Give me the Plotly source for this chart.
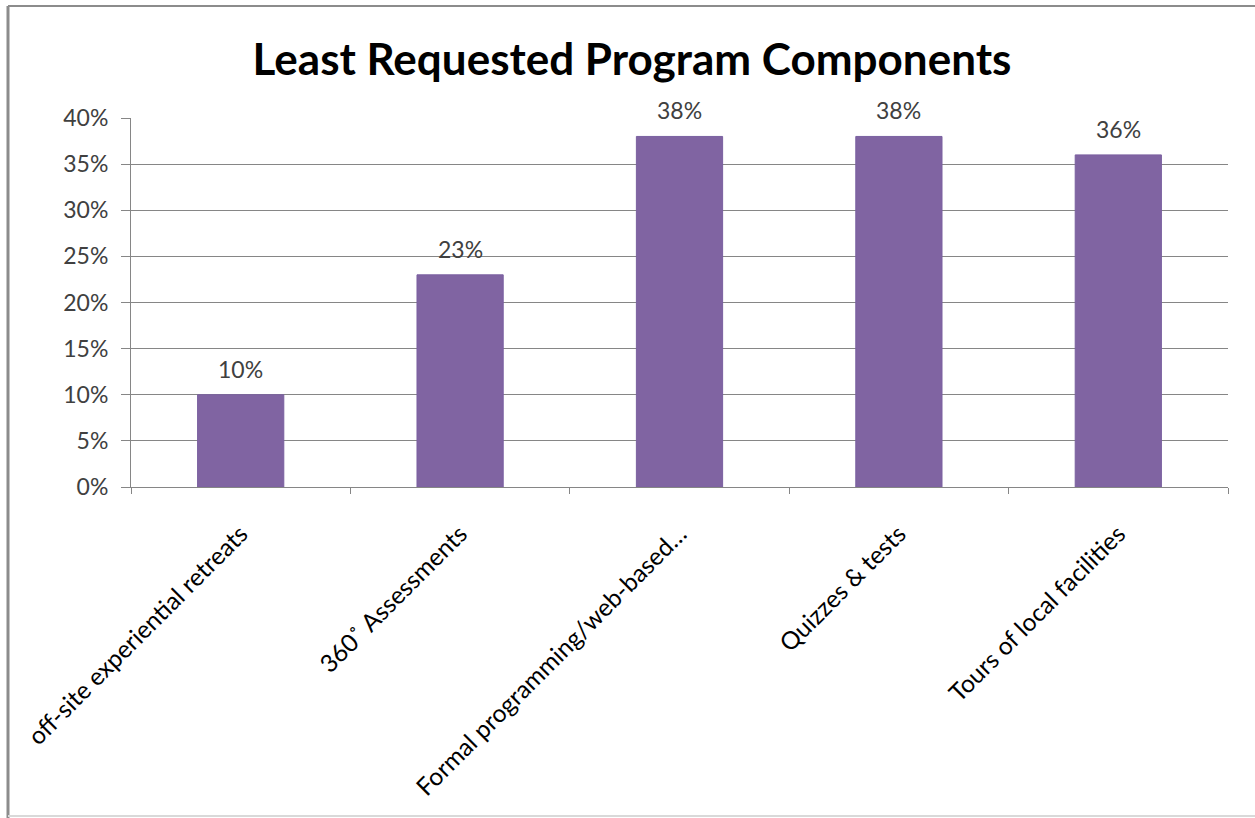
import plotly.graph_objects as go

categories = ["off-site experiential retreats", "360˚ Assessments",
              "Formal programming/web-based…", "Quizzes & tests",
              "Tours of local facilities"]
values = [10, 23, 38, 38, 36]
labels = ["10%", "23%", "38%", "38%", "36%"]

W, H = 1255, 818
L, R, T, B = 131, 1228, 118, 487
pw, ph = R - L, B - T

def px(x):
    return (x - L) / pw

def py(y):
    return (B - y) / ph

font = "Lato, 'Open Sans', sans-serif"
fig = go.Figure(go.Bar(
    x=categories, y=values,
    marker=dict(color="#8064A2", line=dict(color="#7A60A0", width=1)),
    width=0.393,
))

for c, v, t in zip(categories, values, labels):
    fig.add_annotation(x=c, y=v, text=t, showarrow=False, yanchor="bottom",
                       yshift=10, font=dict(size=23, color="#404040", family=font))

border = "#8C8C8C"
fig.update_layout(
    width=W, height=H,
    margin=dict(l=L, r=W - R, t=T, b=H - B, autoexpand=False),
    paper_bgcolor="white", plot_bgcolor="white",
    font=dict(family=font, color="#404040"),
    showlegend=False,
    title=dict(text="<b>Least Requested Program Components</b>",
               x=632 / W, xref="container", xanchor="center",
               y=1 - 60 / H, yref="container", yanchor="middle",
               font=dict(size=44, color="black", family=font)),
    xaxis=dict(showline=True, linecolor="#868686", linewidth=1,
               ticks="outside", ticklen=6, tickcolor="#868686",
               tickson="boundaries", tickangle=-45, ticklabelstandoff=22,
               tickfont=dict(size=24.5, color="black", family=font),
               showgrid=False, automargin=False),
    yaxis=dict(range=[0, 40], dtick=5, ticksuffix="%",
               showline=True, linecolor="#868686", linewidth=1,
               ticks="outside", ticklen=9, tickcolor="#868686",
               ticklabelstandoff=8,
               showgrid=True, gridcolor="#868686", gridwidth=1,
               tickfont=dict(size=23, color="#404040", family=font),
               zeroline=False, automargin=False),
    shapes=[
        dict(type="line", xref="paper", yref="paper",
             x0=px(8), x1=px(1255), y0=py(6), y1=py(6),
             line=dict(color=border, width=2), layer="below"),
        dict(type="line", xref="paper", yref="paper",
             x0=px(8), x1=px(8), y0=py(6), y1=py(818),
             line=dict(color=border, width=3), layer="below"),
        dict(type="line", xref="paper", yref="paper",
             x0=px(8), x1=px(1255), y0=py(816), y1=py(816),
             line=dict(color="#D9D9D9", width=2), layer="below"),
    ],
)

fig.write_html("out.html", config={"displayModeBar": False},
               post_script="document.body.style.margin='0';document.body.style.overflow='hidden';")
